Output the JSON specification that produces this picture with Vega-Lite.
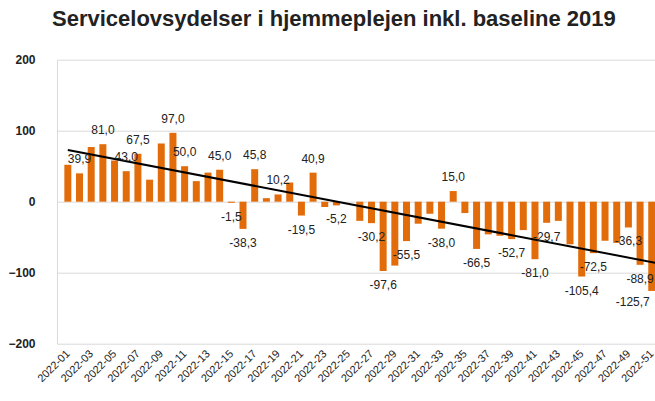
{
  "$schema": "https://vega.github.io/schema/vega-lite/v6.json",
  "width": 598,
  "height": 284,
  "autosize": {"type": "none"},
  "padding": {"left": 57, "top": 59.7, "right": 0, "bottom": 57.3},
  "background": "white",
  "title": {
    "text": "Servicelovsydelser i hjemmeplejen inkl. baseline 2019",
    "anchor": "start",
    "frame": "group",
    "dx": -5,
    "offset": 6,
    "baseline": "alphabetic",
    "font": "Liberation Sans",
    "fontSize": 22,
    "fontWeight": "bold",
    "color": "#222222"
  },
  "datasets": {
    "bars": [
      {"week": 1, "value": 52},
      {"week": 2, "value": 39.9, "lab": "39,9"},
      {"week": 3, "value": 77},
      {"week": 4, "value": 81.0, "lab": "81,0"},
      {"week": 5, "value": 58},
      {"week": 6, "value": 43.0, "lab": "43,0"},
      {"week": 7, "value": 67.5, "lab": "67,5"},
      {"week": 8, "value": 31},
      {"week": 9, "value": 82},
      {"week": 10, "value": 97.0, "lab": "97,0"},
      {"week": 11, "value": 50.0, "lab": "50,0"},
      {"week": 12, "value": 29},
      {"week": 13, "value": 41},
      {"week": 14, "value": 45.0, "lab": "45,0"},
      {"week": 15, "value": -1.5, "lab": "-1,5"},
      {"week": 16, "value": -38.3, "lab": "-38,3"},
      {"week": 17, "value": 45.8, "lab": "45,8"},
      {"week": 18, "value": 5},
      {"week": 19, "value": 10.2, "lab": "10,2"},
      {"week": 20, "value": 27},
      {"week": 21, "value": -19.5, "lab": "-19,5"},
      {"week": 22, "value": 40.9, "lab": "40,9"},
      {"week": 23, "value": -7.5},
      {"week": 24, "value": -5.2, "lab": "-5,2"},
      {"week": 26, "value": -27},
      {"week": 27, "value": -30.2, "lab": "-30,2"},
      {"week": 28, "value": -97.6, "lab": "-97,6"},
      {"week": 29, "value": -90},
      {"week": 30, "value": -55.5, "lab": "-55,5"},
      {"week": 31, "value": -31},
      {"week": 32, "value": -17},
      {"week": 33, "value": -38.0, "lab": "-38,0"},
      {"week": 34, "value": 15.0, "lab": "15,0"},
      {"week": 35, "value": -16},
      {"week": 36, "value": -66.5, "lab": "-66,5"},
      {"week": 37, "value": -46},
      {"week": 38, "value": -48},
      {"week": 39, "value": -52.7, "lab": "-52,7"},
      {"week": 40, "value": -40},
      {"week": 41, "value": -81.0, "lab": "-81,0"},
      {"week": 42, "value": -29.7, "lab": "-29,7"},
      {"week": 43, "value": -27},
      {"week": 44, "value": -60},
      {"week": 45, "value": -105.4, "lab": "-105,4"},
      {"week": 46, "value": -72.5, "lab": "-72,5"},
      {"week": 47, "value": -55},
      {"week": 48, "value": -58},
      {"week": 49, "value": -36.3, "lab": "-36,3"},
      {"week": 50, "value": -88.9, "lab": "-88,9"},
      {"week": 51, "value": -125.7, "lab": "-125,7"}
    ],
    "trend": [
      {"week": 1, "trend": 72.8},
      {"week": 52, "trend": -88.2}
    ]
  },
  "encoding": {
    "x": {
      "field": "week",
      "type": "quantitative",
      "scale": {"domain": [0.5, 50.85], "nice": false, "zero": false},
      "axis": {
        "title": null,
        "orient": "bottom",
        "values": [1, 3, 5, 7, 9, 11, 13, 15, 17, 19, 21, 23, 25, 27, 29, 31, 33, 35, 37, 39, 41, 43, 45, 47, 49, 51],
        "labelExpr": "'2022-' + (datum.value < 10 ? '0' : '') + datum.value",
        "labelAngle": -45,
        "labelAlign": "right",
        "labelBaseline": "middle",
        "labelPadding": 8,
        "labelFont": "Liberation Sans",
        "labelFontSize": 11,
        "labelColor": "#222222",
        "labelBound": false,
        "labelOverlap": false,
        "labelFlush": false,
        "ticks": false,
        "domain": false,
        "grid": false
      }
    }
  },
  "layer": [
    {
      "data": {"name": "bars"},
      "mark": {"type": "bar", "size": 7, "color": "#E36C0A"},
      "encoding": {
        "y": {
          "field": "value",
          "type": "quantitative",
          "scale": {"domain": [-200, 200], "nice": false},
          "axis": {
            "title": null,
            "values": [-200, -100, 0, 100, 200],
            "ticks": false,
            "labelPadding": 22,
            "labelFont": "Liberation Sans",
            "labelFontSize": 12,
            "labelFontWeight": "bold",
            "labelColor": "#222222",
            "domain": true,
            "domainColor": "#d9d9d9",
            "gridColor": "#d9d9d9",
            "grid": true
          }
        }
      }
    },
    {
      "data": {"name": "trend"},
      "mark": {"type": "line", "color": "black", "strokeWidth": 2},
      "encoding": {
        "y": {"field": "trend", "type": "quantitative"}
      }
    },
    {
      "data": {"name": "bars"},
      "transform": [{"filter": "datum.lab != null && datum.value >= 0"}],
      "mark": {"type": "text", "baseline": "middle", "dy": -14, "font": "Liberation Sans", "fontSize": 12, "color": "#222222"},
      "encoding": {
        "y": {"field": "value", "type": "quantitative"},
        "text": {"field": "lab", "type": "nominal"}
      }
    },
    {
      "data": {"name": "bars"},
      "transform": [{"filter": "datum.lab != null && datum.value < 0 && datum.week < 51"}],
      "mark": {"type": "text", "baseline": "middle", "dy": 14, "font": "Liberation Sans", "fontSize": 12, "color": "#222222"},
      "encoding": {
        "y": {"field": "value", "type": "quantitative"},
        "text": {"field": "lab", "type": "nominal"}
      }
    },
    {
      "data": {"name": "bars"},
      "transform": [{"filter": "datum.week == 51"}],
      "mark": {"type": "text", "baseline": "middle", "align": "right", "dx": -2, "dy": 11, "font": "Liberation Sans", "fontSize": 12, "color": "#222222"},
      "encoding": {
        "y": {"field": "value", "type": "quantitative"},
        "text": {"field": "lab", "type": "nominal"}
      }
    }
  ],
  "config": {"view": {"stroke": null}}
}
